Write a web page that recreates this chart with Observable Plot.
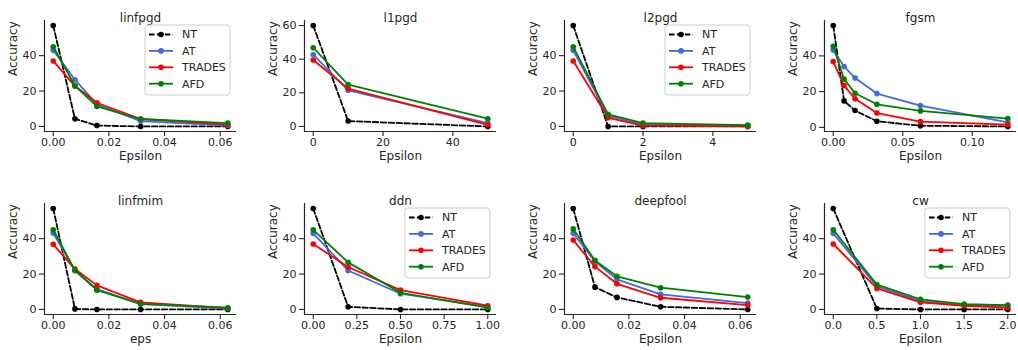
<!DOCTYPE html>
<html><head><meta charset="utf-8">
<script src="https://cdn.jsdelivr.net/npm/d3@7"></script>
<script src="https://cdn.jsdelivr.net/npm/@observablehq/plot@0.6"></script>
<style>
body{margin:0;background:#fff;}
#chart{position:relative;width:1018px;height:350px;overflow:hidden;font-family:"DejaVu Sans",sans-serif;background:#fff;}
.sub{position:absolute;overflow:visible;}
</style></head><body><div id="chart"></div>
<script>
const attacks = ["linfpgd","l1pgd","l2pgd","fgsm","linfmim","ddn","deepfool","cw"];
const models = ["NT","AT","TRADES","AFD"];
const colors = ["#000000","#4169e1","#ff0000","#008000"];
const epsilons = [
  [0, 0.0078, 0.0157, 0.0314, 0.0627],
  [0, 10, 50],
  [0, 1, 2, 5],
  [0, 0.0078, 0.0157, 0.0314, 0.0627, 0.1255],
  [0, 0.0078, 0.0157, 0.0314, 0.0627],
  [0, 0.2, 0.5, 1.0],
  [0, 0.0078, 0.0157, 0.0314, 0.0627],
  [0, 0.5, 1.0, 1.5, 2.0]
];
const NT = [
  [57, 4.3, 0.5, 0, 0],
  [60, 3.2, 0],
  [57, 0, 0, 0],
  [57, 14.8, 9.4, 3.4, 0.9, 0.5],
  [57, 0.3, 0, 0, 0],
  [57, 1.5, 0, 0],
  [57, 12.6, 6.8, 1.5, 0],
  [57, 0.5, 0, 0, 0]
];
const AT = [
  [43, 26.4, 12.5, 3.0, 0.5],
  [42.7, 21.5, 2],
  [43, 6, 1, 0.5],
  [43.3, 34.1, 27.6, 18.9, 12.2, 2.8],
  [43.2, 22, 11.5, 3, 0.5],
  [43, 22, 8.9, 1.5],
  [43, 27.2, 17, 8.5, 3.6],
  [43, 13, 4.7, 2.5, 2.1]
];
const TRADES = [
  [37, 22.8, 13.4, 4.2, 1],
  [39.5, 22.5, 1],
  [37, 4.9, 0.5, 0],
  [36.8, 23.4, 16, 8, 3.2, 1.5],
  [36.8, 22.8, 13.6, 4, 0.8],
  [37, 24, 10.9, 2.1],
  [39.2, 24.2, 14.5, 6.6, 2.5],
  [37, 11.9, 4, 2.1, 1]
];
const AFD = [
  [45, 23, 11.3, 4.2, 1.9],
  [46.8, 24.9, 4.6],
  [45, 6.8, 1.9, 0.8],
  [45.4, 27, 19.1, 12.9, 9.2, 4.9],
  [45, 22, 10.9, 3.2, 1],
  [45, 26.6, 9.4, 1],
  [45.5, 27.7, 18.7, 12.3, 7],
  [45, 14, 5.7, 3, 2.5]
];
const xTicks = [
  [0, 0.02, 0.04, 0.06],
  [0, 20, 40],
  [0, 2, 4],
  [0, 0.05, 0.10],
  [0, 0.02, 0.04, 0.06],
  [0, 0.25, 0.5, 0.75, 1.0],
  [0, 0.02, 0.04, 0.06],
  [0, 0.5, 1.0, 1.5, 2.0]
];
const xTickFormats = [".2f", "d", "d", ".2f", ".2f", ".2f", ".2f", ".1f"];
const yTicks = [[0,20,40],[0,20,40,60],[0,20,40],[0,20,40],[0,20,40],[0,20,40],[0,20,40],[0,20,40]];
const xLabels = ["Epsilon","Epsilon","Epsilon","Epsilon","eps","Epsilon","Epsilon","Epsilon"];
const yLabel = "Accuracy";
const legendOn = [true,false,true,false,false,true,false,true];
const seriesValues = [NT, AT, TRADES, AFD];

const INK = "#262626";
const FL = 43.5, FT = 20, FW = 192, FH = 111, DX = 260, DY = 183;
const ML = 44, MT = 20, MB = 45;
const chart = document.getElementById("chart");

function pad(ext) {
  const r = ext[1] - ext[0];
  return [ext[0] - 0.05 * r, ext[1] + 0.05 * r];
}

attacks.forEach((name, i) => {
  const col = i % 4, row = Math.floor(i / 4);
  const fl = FL + col * DX, ft = FT + row * DY;
  const left = fl - ML, top = ft - MT;
  const width = Math.min(ML + FW + 20, 1018 - left);
  const data = [];
  models.forEach((m, k) => {
    epsilons[i].forEach((e, j) => data.push({model: m, k, eps: e, acc: seriesValues[k][i][j]}));
  });
  const xd = pad(d3.extent(epsilons[i]));
  const yd = pad(d3.extent(data, d => d.acc));
  const marks = [
    Plot.ruleX([xd[0]], {stroke: INK, strokeWidth: 1.2}),
    Plot.ruleY([yd[0]], {stroke: INK, strokeWidth: 1.2}),
    Plot.axisX({ticks: xTicks[i], tickFormat: d3.format(xTickFormats[i]), tickSize: 5, tickPadding: 1.5, fontSize: 11, label: null, stroke: INK, fill: INK, strokeWidth: 1.1}),
    Plot.axisY({ticks: yTicks[i], tickFormat: d3.format("d"), tickSize: 5, tickPadding: 3, fontSize: 11, label: null, stroke: INK, fill: INK, strokeWidth: 1.1}),
    Plot.text([name], {frameAnchor: "top", dy: -7, text: d => d, fontSize: 12, fill: INK}),
    Plot.text([xLabels[i]], {frameAnchor: "bottom", dy: 28, text: d => d, fontSize: 12, fill: INK}),
    Plot.text([yLabel], {frameAnchor: "left", dx: -31, rotate: -90, text: d => d, fontSize: 12, fill: INK})
  ];
  models.forEach((m, k) => {
    const sub = data.filter(d => d.model === m);
    marks.push(Plot.line(sub, {x: "eps", y: "acc", stroke: colors[k], strokeWidth: 1.8,
      strokeDasharray: k === 0 ? "5.5,2.4" : null}));
    marks.push(Plot.dot(sub, {x: "eps", y: "acc", fill: colors[k], r: 2.8}));
  });
  const svg = Plot.plot({
    width, height: MT + FH + MB,
    marginLeft: ML, marginTop: MT, marginRight: width - ML - FW, marginBottom: MB,
    x: {domain: xd}, y: {domain: yd},
    style: {fontFamily: "DejaVu Sans", fontSize: "11px", color: INK, background: "transparent", overflow: "visible"},
    marks
  });
  svg.classList.add("sub");
  svg.style.left = left + "px";
  svg.style.top = top + "px";
  chart.appendChild(svg);

  if (legendOn[i]) {
    const bw = 85, bh = 70;
    const bx = fl + FW - 6 - bw, by = ft + 5;
    const lg = d3.create("svg").attr("class", "sub").attr("width", bw + 2).attr("height", bh + 2)
      .style("left", (bx - 1) + "px").style("top", (by - 1) + "px");
    lg.append("rect").attr("x", 1).attr("y", 1).attr("width", bw).attr("height", bh)
      .attr("rx", 3).attr("fill", "#fff").attr("fill-opacity", 0.8).attr("stroke", "#cccccc").attr("stroke-width", 1);
    models.forEach((m, k) => {
      const cy = 1 + 9.5 + k * 16.4;
      lg.append("line").attr("x1", 1 + 4).attr("x2", 1 + 28).attr("y1", cy).attr("y2", cy)
        .attr("stroke", colors[k]).attr("stroke-width", 1.8).attr("stroke-dasharray", k === 0 ? "5.5,2.4" : null);
      lg.append("circle").attr("cx", 1 + 16).attr("cy", cy).attr("r", 2.8).attr("fill", colors[k]);
      lg.append("text").attr("x", 1 + 37).attr("y", cy).attr("dy", "0.36em").attr("font-size", 11)
        .attr("font-family", "DejaVu Sans").attr("fill", INK).text(m);
    });
    chart.appendChild(lg.node());
  }
});
</script></body></html>
